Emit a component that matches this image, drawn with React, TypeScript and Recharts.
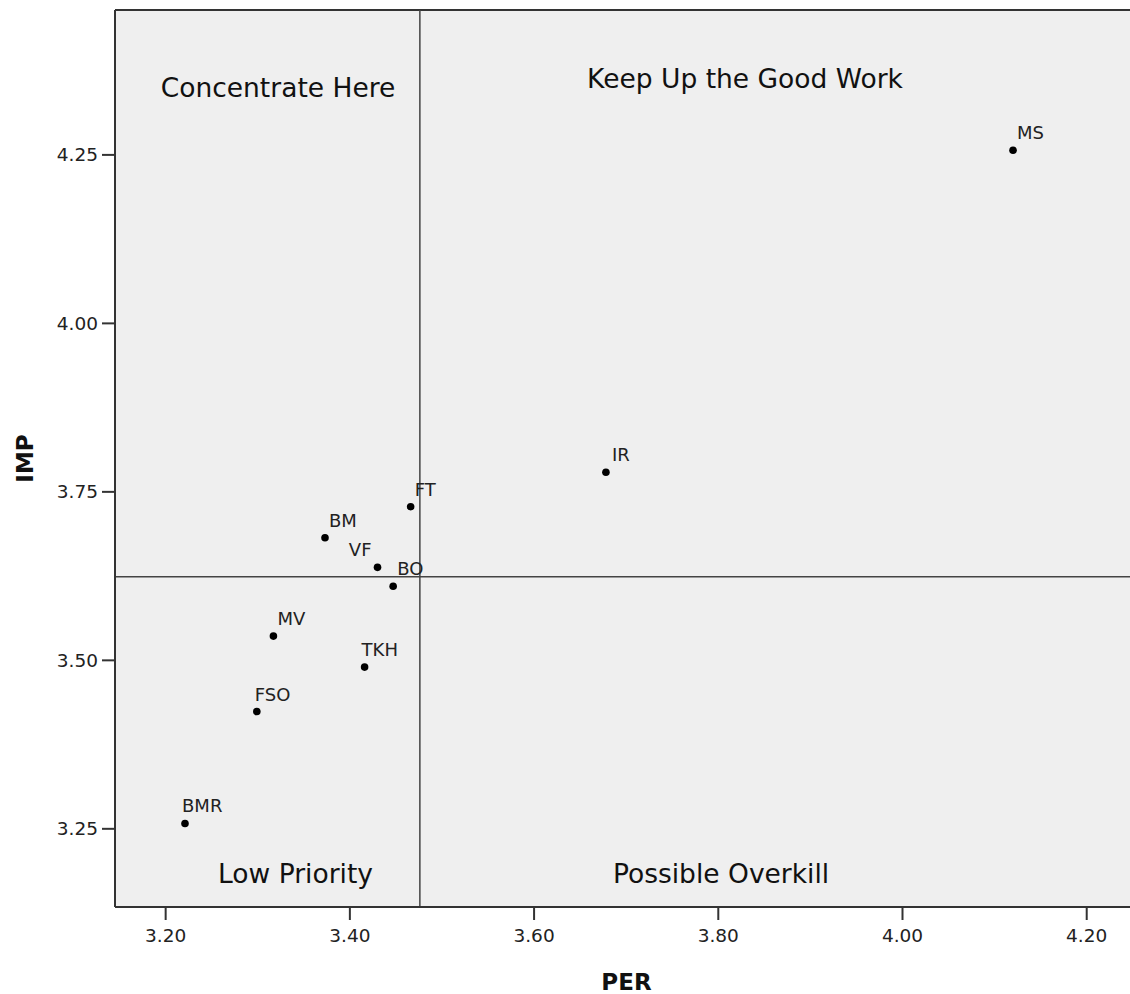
import React from 'react';
import {
  ScatterChart,
  Scatter,
  XAxis,
  YAxis,
  ReferenceLine,
  ReferenceArea,
  ReferenceDot,
} from 'recharts';

// attributes: performance (PER) vs importance (IMP)
const names = ['MS', 'IR', 'FT', 'BM', 'VF', 'BO', 'MV', 'TKH', 'FSO', 'BMR'];
const perValues = [4.12, 3.678, 3.466, 3.373, 3.43, 3.447, 3.317, 3.416, 3.299, 3.221];
const impValues = [4.257, 3.779, 3.728, 3.682, 3.638, 3.61, 3.536, 3.49, 3.424, 3.258];

const xTicks = [3.2, 3.4, 3.6, 3.8, 4.0, 4.2];
const yTicks = [3.25, 3.5, 3.75, 4.0, 4.25];
const xDomain: [number, number] = [3.145, 4.247];
const yDomain: [number, number] = [3.134, 4.465];

// quadrant split (means)
const perMean = 3.476;
const impMean = 3.624;

const quadrantNames = ['Concentrate Here', 'Keep Up the Good Work', 'Low Priority', 'Possible Overkill'];
const quadrantPer = [3.322, 3.829, 3.341, 3.803];
const quadrantImp = [4.336, 4.349, 3.17, 3.17];

const points = names.map((name, i) => ({ name, per: perValues[i], imp: impValues[i] }));

const FONT = '"DejaVu Sans", sans-serif';
const AXIS = '#333';

// label nudges so text sits like the original
const labelDx: Record<string, number> = { IR: 6, VF: -6, TKH: -3, BMR: -3, FSO: -2 };

const PointShape = (props: any) => {
  const { cx, cy, payload } = props;
  const name = payload.name;
  const anchorEnd = name === 'VF';
  const dx = labelDx[name] ?? 4;
  return (
    <g>
      <circle cx={cx} cy={cy} r={3.8} fill="#000" />
      <text
        x={cx + dx}
        y={cy - 11}
        textAnchor={anchorEnd ? 'end' : 'start'}
        fontFamily={FONT}
        fontSize={18}
        fill="#222"
      >
        {name}
      </text>
    </g>
  );
};

export default function App() {
  return (
    <div style={{ position: 'absolute', left: 0, top: 0, background: '#fff' }}>
      <ScatterChart width={1130} height={994} margin={{ top: 10, right: 0, bottom: 0, left: 0 }}>
        <ReferenceArea
          x1={xDomain[0]}
          x2={xDomain[1]}
          y1={yDomain[0]}
          y2={yDomain[1]}
          fill="#efefef"
          fillOpacity={1}
          stroke="none"
        />
        <XAxis
          type="number"
          dataKey="per"
          domain={xDomain}
          allowDataOverflow
          ticks={xTicks}
          tickFormatter={(v: number) => v.toFixed(2)}
          height={87}
          stroke={AXIS}
          strokeWidth={2}
          tickSize={13}
          tickMargin={9}
          tick={{ fontFamily: FONT, fontSize: 18.5, fill: '#222' }}
          label={{
            content: ({ viewBox }: any) => (
              <text
                x={viewBox.x + viewBox.width / 2 + 4}
                y={viewBox.y + viewBox.height - 4}
                textAnchor="middle"
                fontFamily={FONT}
                fontWeight="bold"
                fontSize={23}
                fill="#111"
              >
                PER
              </text>
            ),
          }}
        />
        <YAxis
          type="number"
          dataKey="imp"
          domain={yDomain}
          allowDataOverflow
          ticks={yTicks}
          tickFormatter={(v: number) => v.toFixed(2)}
          width={115}
          stroke={AXIS}
          strokeWidth={2}
          tickSize={13}
          tickMargin={4}
          tick={{ fontFamily: FONT, fontSize: 18.5, fill: '#222' }}
          label={{
            content: ({ viewBox }: any) => {
              const cx = viewBox.x + 25;
              const cy = viewBox.y + viewBox.height / 2;
              return (
                <text
                  x={cx}
                  y={cy}
                  transform={`rotate(-90, ${cx}, ${cy})`}
                  textAnchor="middle"
                  dominantBaseline="central"
                  fontFamily={FONT}
                  fontWeight="bold"
                  fontSize={23}
                  fill="#111"
                >
                  IMP
                </text>
              );
            },
          }}
        />
        <ReferenceLine y={yDomain[1]} stroke={AXIS} strokeWidth={2} />
        <ReferenceLine x={perMean} stroke="#444" strokeWidth={1.5} />
        <ReferenceLine y={impMean} stroke="#444" strokeWidth={1.5} />
        {quadrantNames.map((q, i) => (
          <ReferenceDot
            key={q}
            x={quadrantPer[i]}
            y={quadrantImp[i]}
            shape={(p: any) => (
              <text
                x={p.cx}
                y={p.cy}
                textAnchor="middle"
                fontFamily={FONT}
                fontSize={26.5}
                fill="#111"
              >
                {q}
              </text>
            )}
          />
        ))}
        <Scatter data={points} shape={PointShape} isAnimationActive={false} />
      </ScatterChart>
    </div>
  );
}
